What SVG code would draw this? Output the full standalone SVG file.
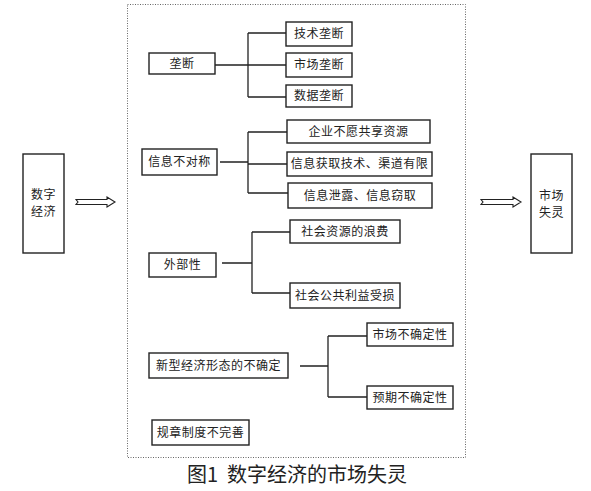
<svg xmlns="http://www.w3.org/2000/svg" width="591" height="491" viewBox="0 0 591 491">
<style>
.box{fill:#fff;stroke:#222;stroke-width:1.4}
.t{font-family:"Noto Sans CJK SC","Noto Sans",sans-serif;font-size:12px;fill:#222;text-anchor:middle;letter-spacing:0.5px}
.ln{fill:none;stroke:#222;stroke-width:1.3}
.arr{fill:#fff;stroke:#222;stroke-width:1.1;stroke-linejoin:miter}
</style>
<rect width="591" height="491" fill="#fff"/>
<rect x="127.5" y="4.5" width="338" height="453" fill="none" stroke="#666" stroke-width="1" stroke-dasharray="1,1.5"/>
<g id="connectors">
<polygon class="arr" points="76,199.5 107,199.5 107,197 115,202 107,207 107,204.5 76,204.5 78,202"/>
<polygon class="arr" points="481,199.5 513,199.5 513,197 521,202 513,207 513,204.5 481,204.5 483,202"/>
<path class="ln" d="M215,65H248M248,33V97M248,33H286M248,65H286M248,97H286"/>
<path class="ln" d="M220,162H248M248,132V193M248,132H287M248,164H287M248,193H288"/>
<path class="ln" d="M222,263H252M252,232V293M252,232H290M252,293H290"/>
<path class="ln" d="M300,366H328M328,336V397M328,336H367M328,397H367"/>
</g>
<g id="n_digital"><rect class="box" x="23" y="154" width="41" height="99"/><text class="t" x="43.5" y="199">数字</text><text class="t" x="43.5" y="216">经济</text></g>
<g id="n_failure"><rect class="box" x="531" y="154" width="41" height="99"/><text class="t" x="551.5" y="200">市场</text><text class="t" x="551.5" y="217">失灵</text></g>
<g id="n_monopoly"><rect class="box" x="149" y="53" width="66" height="21"/><text class="t" x="182" y="68">垄断</text></g>
<g id="n_tech"><rect class="box" x="286" y="22" width="66" height="24"/><text class="t" x="319" y="38">技术垄断</text></g>
<g id="n_market"><rect class="box" x="286" y="53" width="66" height="24"/><text class="t" x="319" y="69">市场垄断</text></g>
<g id="n_data"><rect class="box" x="286" y="85" width="66" height="22"/><text class="t" x="319" y="100">数据垄断</text></g>
<g id="n_info"><rect class="box" x="142" y="149" width="75" height="26"/><text class="t" x="179.5" y="166">信息不对称</text></g>
<g id="n_share"><rect class="box" x="287" y="120" width="143" height="23"/><text class="t" x="358.5" y="136">企业不愿共享资源</text></g>
<g id="n_access"><rect class="box" x="287" y="152" width="145" height="24"/><text class="t" x="359.5" y="168">信息获取技术、渠道有限</text></g>
<g id="n_leak"><rect class="box" x="288" y="183" width="144" height="25"/><text class="t" x="360" y="200">信息泄露、信息窃取</text></g>
<g id="n_ext"><rect class="box" x="149" y="253" width="67" height="24"/><text class="t" x="182.5" y="269">外部性</text></g>
<g id="n_waste"><rect class="box" x="290" y="220" width="110" height="23"/><text class="t" x="345" y="236">社会资源的浪费</text></g>
<g id="n_public"><rect class="box" x="290" y="283" width="110" height="25"/><text class="t" x="345" y="300">社会公共利益受损</text></g>
<g id="n_new"><rect class="box" x="149" y="353" width="139" height="25"/><text class="t" x="218.5" y="370">新型经济形态的不确定</text></g>
<g id="n_mu"><rect class="box" x="367" y="323" width="86" height="23"/><text class="t" x="410" y="339">市场不确定性</text></g>
<g id="n_eu"><rect class="box" x="367" y="386" width="86" height="23"/><text class="t" x="410" y="402">预期不确定性</text></g>
<g id="n_reg"><rect class="box" x="152" y="420" width="97" height="25"/><text class="t" x="200.5" y="437">规章制度不完善</text></g>
<text x="297" y="482" font-family="Noto Sans CJK SC,Liberation Sans,sans-serif" font-size="20" fill="#222" text-anchor="middle" xml:space="preserve">图1  数字经济的市场失灵</text>
</svg>
